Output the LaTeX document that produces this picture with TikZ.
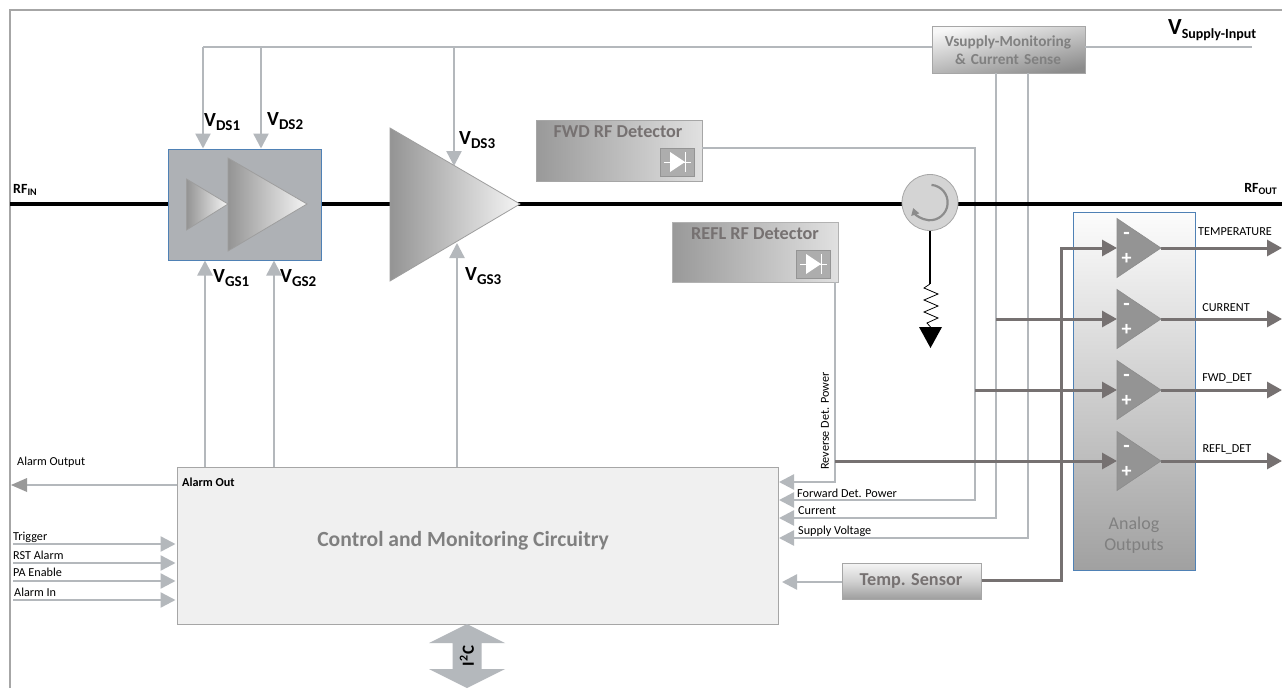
\documentclass[tikz,border=0pt]{standalone}
\usepackage{fontspec}
\setmainfont{Carlito}
\usetikzlibrary{arrows.meta,shapes.geometric,calc}
\definecolor{lg}{HTML}{B4B8BC}
\definecolor{dg}{HTML}{767171}
\definecolor{tg}{HTML}{767171}
\definecolor{fr}{HTML}{A6A6A6}
\definecolor{blu}{HTML}{4F81B5}
\definecolor{drvc}{HTML}{AEB1B5}
\newcommand\fs[1]{\fontsize{#1}{#1}\selectfont}
\newcommand\vlab[1]{\bfseries\fs{20}V\raisebox{-4pt}{\fs{15}#1}}
\newcommand\rflab[1]{\bfseries\fs{14}RF\raisebox{-2.5pt}{\fs{10}#1}}
\tikzset{
 sig/.style={draw=lg,line width=2.4pt},
 sigar/.style={sig,-{Triangle[length=15pt,width=15pt]}},
 dk/.style={draw=dg,line width=3pt},
 dkar/.style={dk,-{Triangle[length=15pt,width=16pt]}},
 rf/.style={draw=black,line width=4.4pt},
 tx/.style={inner sep=0pt,font=\fs{12.2},text=black},
 txl/.style={tx,anchor=west},
 boxn/.style={rectangle,inner sep=0pt,line width=1pt},
 gtx/.style={inner sep=0pt,text=tg,font=\bfseries\fs{18.2}},
 tri/.style={draw=black!38,line width=0.8pt,shade,left color=black!42,right color=black!4},
 opa/.style={fill=black!42,draw=black!45,line width=0.6pt},
 circn/.style={circle,minimum size=56pt,inner sep=0pt,draw=black!35,line width=0.8pt,fill=black!17},
 drvn/.style={boxn,draw=blu,fill=drvc,minimum width=153pt,minimum height=111pt},
 diode/.pic={
  \draw[fill=black!32,draw=black!42,line width=1pt] (-17,-14) rectangle (17,14);
  \fill[white] (-7,-10) -- (8,0) -- (-7,10) -- cycle;
  \draw[white,line width=0.9pt] (-13,0) -- (14,0) (8,-10) -- (8,10);
 }
}
\begin{document}
\begin{tikzpicture}[x=1pt,y=-1pt]
\useasboundingbox (0,0) rectangle (1282,688);
\fill[white] (0,0) rectangle (1282,688);
\draw[fr,line width=1.4pt] (10,688) -- (10,10) -- (1282,10);

% named nodes
\node[boxn,draw=black!35,shade,top color=black!3,bottom color=black!45,shading angle=12,minimum width=153pt,minimum height=47pt] (mon) at (1008.5,49.5) {};
\node[boxn,draw=black!35,fill=black!6,minimum width=601pt,minimum height=157pt] (ctrl) at (477.5,546) {};
\coordinate (rfin) at (10,204);
\coordinate (rfout) at (1282,204);
\coordinate (supin) at (1252,47);
\coordinate (vsl) at (932,47);
\coordinate (vsr) at (1085,47);
\coordinate (d1) at (203,47);
\coordinate (d2) at (261,47);
\coordinate (d3) at (454,47);
\coordinate (ampg) at (457,243);
\coordinate (ampd) at (454,166);
\coordinate (ampl) at (390,204);
\coordinate (ampr) at (520,204);

% detectors
\node[boxn,draw=black!35,shade,left color=black!40,right color=black!12,minimum width=166pt,minimum height=61pt] (fwd) at (619,150.5) {};
\node[boxn,draw=black!30,shade,left color=black!40,right color=black!12,minimum width=166pt,minimum height=60pt] (refl) at (755,252) {};

% monitoring lines to the control box
\coordinate (fwdo) at (702,148);
\coordinate (fwdc) at (975,148);
\coordinate (fwdb) at (975,500);
\coordinate (reflo) at (835,282);
\coordinate (reflb) at (835,482);
\coordinate (curt) at (996,73);
\coordinate (curb) at (996,518);
\coordinate (supt) at (1028,73);
\coordinate (supb) at (1028,538);
\coordinate (ci1) at (779,482);
\coordinate (ci2) at (779,500);
\coordinate (ci3) at (779,518);
\coordinate (ci4) at (779,538);
\coordinate (ci5) at (782,582);
\coordinate (tw) at (842,582);
\draw[sigar] (reflo) -- (reflb) -- (ci1);
\draw[sigar] (fwdo) -- (fwdc) -- (fwdb) -- (ci2);
\draw[sigar] (curt) -- (curb) -- (ci3);
\draw[sigar] (supt) -- (supb) -- (ci4);

% RF line
\draw[rf] (rfin) -- (rfout);
\node[circn] (circ) at (930,202.5) {};
\draw[draw=black!45,line width=2.2pt,-{Triangle[length=7pt,width=8pt]}] ($(circ.center)+(1.5,-17.6)$) arc[start angle=-85,end angle=162,radius=17.7];

% driver block and supply lines
\node[drvn] (drv) at (244.5,204.5) {};
\draw[sig] (vsr) -- (supin);
\draw[sig] (vsl) -- (d1);
\draw[sigar] (d1) -- (d1 |- drv.north);
\draw[sigar] (d2) -- (d2 |- drv.north);
\draw[sigar] (d3) -- (ampd);
\coordinate (g1) at (205,467);
\coordinate (g2) at (274,467);
\coordinate (g3) at (457,467);
\draw[sigar] (g1) -- (g1 |- drv.south);
\draw[sigar] (g2) -- (g2 |- drv.south);
\draw[sigar] (g3) -- (ampg);

% amp stages
\path[tri] (186.5,179) -- (228,204) -- (186.5,230) -- cycle;
\path[tri] (228,158) -- (307,204) -- (228,251) -- cycle;
\path[tri] (ampl |- 0,128) -- (ampr) -- (ampl |- 0,281) -- cycle;

% isolator load
\coordinate (rtop) at (930,284);
\coordinate (gtop) at (930.5,327);
\draw[black,line width=1.6pt] (circ.south) -- (rtop);
\draw[black,line width=0.8pt] (rtop) -- (924,288) -- (938,294) -- (924,300) -- (938,306) -- (924,312) -- (938,318) -- (927,323) -- (gtop);
\fill[black] (919,327) -- (942,327) -- (930.5,348) -- cycle;

% detector icons
\pic at (677,162) {diode};
\pic at (813,264) {diode};
\node[gtx] (fwdt) at (618,132) {FWD RF Detector};
\node[gtx] (reflt) at (755,234) {REFL RF Detector};
\node[inner sep=0pt,align=center,text=black!50,font=\bfseries\fs{15.3},text width=150pt] (mont) at (1008,50) {Vsupply-Monitoring\\[3pt]\& Current Sense};

% analog block
\node[boxn,draw=blu,shade,top color=black!1,bottom color=black!37,minimum width=122pt,minimum height=358pt] (ana) at (1134,391) {};
\node[inner sep=0pt,align=center,text=black!50,font=\fs{18}] (anat) at (1134,535) {Analog\\[3pt]Outputs};

\foreach \n/\y in {a/248,b/319,c/390,d/461}{
 \coordinate (\n i) at (1117,\y);
 \coordinate (\n o) at (1161,\y);
 \coordinate (\n e) at (1282,\y);
}
% dark signal lines
\node[boxn,draw=black!35,shade,top color=black!4,bottom color=black!38,middle color=black!18,minimum width=139pt,minimum height=36pt] (temp) at (911.5,581) {};
\node[gtx] (tempt) at (911,581) {Temp. Sensor};
\draw[sigar] (tw) -- (ci5);
\coordinate (tc) at (1061,580);
\coordinate (tt) at (1061,248);
\coordinate (cj) at (996,319);
\coordinate (fj) at (975,390);
\coordinate (rj) at (835,461);
\draw[dkar] (temp.east |- tc) -- (tc) -- (tt) -- (ai);
\draw[dkar] (cj) -- (bi);
\draw[dkar] (fj) -- (ci);
\draw[dkar] (rj) -- (di);
\foreach \n in {a,b,c,d}{
 \draw[dkar] (\n o) -- (\n e);
 \path[opa] (\n o) -- ($(\n i)+(0,29.5)$) -- ($(\n i)+(0,-29.5)$) -- cycle;
 \node[inner sep=0pt,text=white,font=\bfseries\fs{21}] (\n m) at ($(\n i)+(9.5,-12)$) {-};
 \node[inner sep=0pt,text=white,font=\bfseries\fs{20}] (\n p) at ($(\n i)+(9.5,11)$) {+};
}
\node[tx] (l1) at (1235,232) {TEMPERATURE};
\node[tx] (l2) at (1226,308) {CURRENT};
\node[tx] (l3) at (1227,378) {FWD\_DET};
\node[tx] (l4) at (1227,449) {REFL\_DET};

% control box text
\node[inner sep=0pt,text=black!50,font=\bfseries\fs{21.6}] (ctrlt) at (463,541) {Control and Monitoring Circuitry};
\node[txl,font=\bfseries\fs{12.2}] (aot) at (182,482) {Alarm Out};
\node[txl] (aol) at (17,462) {Alarm Output};
\coordinate (aoe) at (11,485);
\coordinate (aos) at (27,485);
\draw[line width=2.4pt,draw=lg] (ctrl.west |- aoe) -- (aos);
\fill[black!40] (11,485) -- (27,478) -- (27,492) -- cycle;

\foreach \y/\t/\n/\ty/\tx in {544/Trigger/t/537/13,563/RST Alarm/r/555/13,581/PA Enable/p/572/13,600/Alarm In/i/592/14}{
 \coordinate (\n s) at (13,\y);
 \coordinate (\n e) at (175.5,\y);
 \draw[sigar] (\n s) -- (\n e);
 \node[txl] (\n t) at (\tx,\ty) {\t};
}
\node[txl,rotate=90] (rvt) at (825,470) {Reverse Det. Power};
\node[txl] (fdt) at (797,493) {Forward Det. Power};
\node[txl] (cut) at (798,511) {Current};
\node[txl] (svt) at (798,531) {Supply Voltage};

% I2C
\coordinate (i2c) at (467,656);
\fill[lg] (467,624) -- (505,643) -- (481.5,643) -- (481.5,669) -- (505,669) -- (467,688) -- (429,669) -- (452.5,669) -- (452.5,643) -- (429,643) -- cycle;
\node[inner sep=0pt,rotate=90,font=\bfseries\fs{17}] (i2ct) at (i2c) {I\textsuperscript{2}C};

% voltage labels
\node[inner sep=0pt,anchor=west] (vds1) at (204,122) {\vlab{DS1}};
\node[inner sep=0pt,anchor=west] (vds2) at (267,121) {\vlab{DS2}};
\node[inner sep=0pt,anchor=west] (vds3) at (459,140) {\vlab{DS3}};
\node[inner sep=0pt,anchor=west] (vgs1) at (213,278) {\vlab{GS1}};
\node[inner sep=0pt,anchor=west] (vgs2) at (280,278) {\vlab{GS2}};
\node[inner sep=0pt,anchor=west] (vgs3) at (465,276) {\vlab{GS3}};
\node[inner sep=0pt,anchor=west] (vsi) at (1168,30) {\bfseries\fs{23}V\raisebox{-4pt}{\fs{14}Supply-Input}};
\node[inner sep=0pt,anchor=west] (rfi) at (13,190) {\rflab{IN}};
\node[inner sep=0pt,anchor=east] (rfo) at (1277,189) {\rflab{OUT}};
\end{tikzpicture}
\end{document}
